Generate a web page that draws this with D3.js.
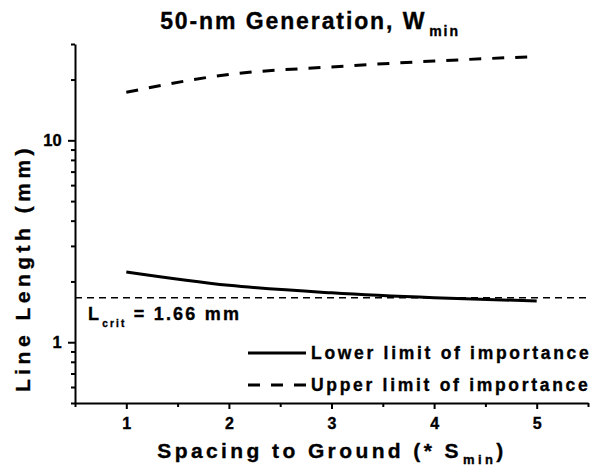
<!DOCTYPE html>
<html><head><meta charset="utf-8">
<script src="https://cdn.jsdelivr.net/npm/d3@7"></script>
<style>
body{margin:0;background:#fff;}
text{font-family:"Liberation Sans",Arial,sans-serif;font-weight:bold;fill:#000;stroke:#000;stroke-width:0.35px;}
</style></head>
<body><svg id="c" width="603" height="474"></svg>
<script>
const spacing = [1, 2, 3, 4, 5];
const lowerLimit = [2.23, 1.915, 1.757, 1.66, 1.60];
const upperLimit = [17.3, 21.2, 23.1, 24.7, 26.0];
const lCrit = 1.66;
const xTicks = [1, 2, 3, 4, 5];
const xMinorTicks = [0.5, 1.5, 2.5, 3.5, 4.5, 5.5];
const yTicks = [1, 10];
const yMinorTicks = [0.5, 0.6, 0.7, 0.8, 0.9, 2, 3, 4, 5, 6, 7, 8, 9, 20, 30];
const legendLabels = ["Lower limit of importance", "Upper limit of importance"];

const svg = d3.select("#c");
const L = 75, R = 588, T = 44, B = 403;
const x = d3.scaleLinear().domain([0.5, 5.5]).range([L, R]);
const y = d3.scaleLog().domain([0.5, 30]).range([B, T]);

// axes
const xAxis = svg.append("g").attr("transform", `translate(0,${B})`)
  .call(d3.axisBottom(x).tickValues(xTicks).tickSize(6).tickSizeOuter(0).tickFormat(d3.format("d")));
svg.append("g").attr("transform", `translate(0,${B})`)
  .call(d3.axisBottom(x).tickValues(xMinorTicks).tickSize(4).tickSizeOuter(0).tickFormat(""))
  .call(g => g.select(".domain").remove());
const yAxis = svg.append("g").attr("transform", `translate(${L},0)`)
  .call(d3.axisLeft(y).tickValues(yTicks).tickSize(7).tickSizeOuter(0).tickFormat(d3.format("d")));
svg.append("g").attr("transform", `translate(${L},0)`)
  .call(d3.axisLeft(y).tickValues(yMinorTicks).tickSize(4).tickSizeOuter(0).tickFormat(""))
  .call(g => g.select(".domain").remove());
svg.selectAll(".domain").attr("stroke", "#000").attr("stroke-width", 2);
svg.selectAll(".tick line").attr("stroke", "#000").attr("stroke-width", 2);
xAxis.selectAll(".tick text").attr("font-size", 16).attr("dy", "1.05em");
yAxis.selectAll(".tick text").attr("font-size", 16.5).attr("dx", "-0.2em");

// Lcrit dashed line
svg.append("line").attr("x1", L).attr("x2", R).attr("y1", y(lCrit)).attr("y2", y(lCrit))
  .attr("stroke", "#000").attr("stroke-width", 1.6).attr("stroke-dasharray", "7,5");

const line = d3.line().x((d, i) => x(spacing[i])).y(d => y(d)).curve(d3.curveMonotoneX);
svg.append("path").datum(lowerLimit).attr("d", line).attr("fill", "none")
  .attr("stroke", "#000").attr("stroke-width", 3);
svg.append("path").datum(upperLimit).attr("d", line).attr("fill", "none")
  .attr("stroke", "#000").attr("stroke-width", 3).attr("stroke-dasharray", "12,11");

// Lcrit label
const lc = svg.append("text").attr("x", 88).attr("y", 320).attr("font-size", 18).attr("letter-spacing", 2.2);
lc.append("tspan").text("L");
lc.append("tspan").attr("font-size", 10).attr("dy", 7).attr("dx", 1).text("crit");
lc.append("tspan").attr("dy", -7).text(" = 1.66 mm");

// legend
const legY = [353, 385];
svg.append("line").attr("x1", 248).attr("x2", 306).attr("y1", legY[0]).attr("y2", legY[0])
  .attr("stroke", "#000").attr("stroke-width", 3);
svg.append("line").attr("x1", 248).attr("x2", 306).attr("y1", legY[1]).attr("y2", legY[1])
  .attr("stroke", "#000").attr("stroke-width", 3).attr("stroke-dasharray", "12,11");
legendLabels.forEach((t, i) => {
  svg.append("text").attr("x", 311).attr("y", legY[i] + 6).attr("font-size", 17.5)
    .attr("letter-spacing", 2.7).text(t);
});

// title
const ti = svg.append("text").attr("x", 310).attr("y", 29).attr("text-anchor", "middle")
  .attr("font-size", 23).attr("letter-spacing", 1.9);
ti.append("tspan").text("50-nm Generation, W");
ti.append("tspan").attr("font-size", 14).attr("dy", 7).attr("dx", 3).text("min");

// x title
const xt = svg.append("text").attr("x", 332).attr("y", 458).attr("text-anchor", "middle")
  .attr("font-size", 21).attr("letter-spacing", 3.4);
xt.append("tspan").text("Spacing to Ground (* S");
xt.append("tspan").attr("font-size", 13).attr("dy", 6).attr("dx", 1).text("min");
xt.append("tspan").attr("dy", -6).text(")");

// y title
svg.append("text").attr("transform", "translate(30,268) rotate(-90)").attr("text-anchor", "middle")
  .attr("font-size", 21).attr("letter-spacing", 4.5).text("Line Length (mm)");
</script></body></html>
